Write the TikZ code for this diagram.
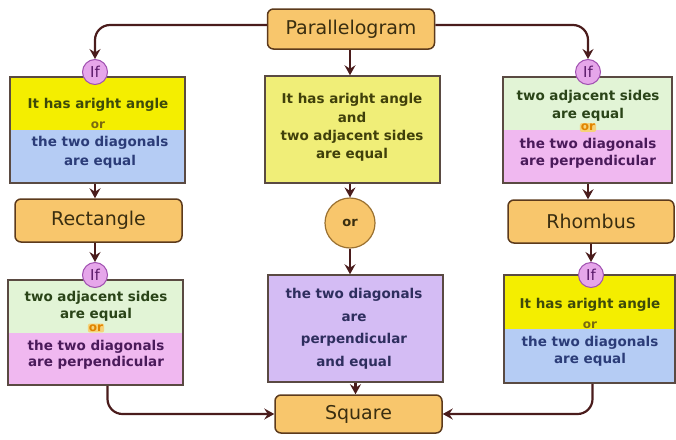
\documentclass[tikz,border=0pt]{standalone}
\usepackage{fontspec}
\setmainfont{DejaVu Sans}
\usetikzlibrary{arrows.meta}
\definecolor{orangefill}{HTML}{F8C66C}
\definecolor{titleborder}{HTML}{5C3A1C}
\definecolor{titletext}{HTML}{3A2E10}
\definecolor{yellowf}{HTML}{F4EE00}
\definecolor{bluef}{HTML}{B5CCF4}
\definecolor{greenf}{HTML}{E2F4D6}
\definecolor{pinkf}{HTML}{F0B8F0}
\definecolor{myellow}{HTML}{F0EE78}
\definecolor{lavf}{HTML}{D4BCF4}
\definecolor{boxborder}{HTML}{5A4A42}
\definecolor{arrcol}{HTML}{4A1C1C}
\definecolor{iffill}{HTML}{E6A6EA}
\definecolor{ifborder}{HTML}{A050B0}
\definecolor{iftext}{HTML}{5A1A6A}
\definecolor{orcborder}{HTML}{9A7030}
\definecolor{olivet}{HTML}{3E4A0A}
\definecolor{navyt}{HTML}{2B3C78}
\definecolor{greent}{HTML}{2A4418}
\definecolor{purplet}{HTML}{4A1A5A}
\definecolor{ort}{HTML}{7A6A10}
\definecolor{oro}{HTML}{E08400}
\definecolor{orhl}{HTML}{F6D27A}
\definecolor{mtext}{HTML}{40400A}
\definecolor{lavt}{HTML}{2E2E5E}
\begin{document}
\begin{tikzpicture}[x=1pt,y=-1pt,
  titlebox/.style={draw=titleborder, line width=1.5pt, fill=orangefill, rounded corners=6pt,
    font=\fontsize{19}{21}\selectfont, text=titletext, inner sep=0pt},
  splitbox/.style 2 args={draw=boxborder, line width=1.5pt, inner sep=0pt,
    path picture={\fill[#1] (path picture bounding box.north west) rectangle (path picture bounding box.east);
      \fill[#2] (path picture bounding box.west) rectangle (path picture bounding box.south east);}},
  plainbox/.style={draw=boxborder, line width=1.5pt, inner sep=0pt},
  btxt/.style={font=\bfseries\fontsize{13.5}{17}\selectfont, align=center, inner sep=0pt},
  ortxt/.style={font=\bfseries\fontsize{12}{12}\selectfont, inner sep=1pt},
  ifc/.style={circle, draw=ifborder, fill=iffill, line width=1pt, minimum size=25pt, inner sep=0pt,
    font=\fontsize{15}{15}\selectfont, text=iftext},
  arr/.style={draw=arrcol, line width=2.2pt, -{Stealth[length=10pt,width=11pt,inset=3.5pt]}, rounded corners=15pt}]
\useasboundingbox (0,0) rectangle (676,439);
% title boxes
\node[titlebox, minimum width=167pt, minimum height=40pt] (par) at (351,29) {Parallelogram};
\node[titlebox, minimum width=167pt, minimum height=43pt] (rect) at (98.5,220.5) {Rectangle};
\node[titlebox, minimum width=166pt, minimum height=43pt] (rhomb) at (591,221.5) {Rhombus};
\node[titlebox, minimum width=167pt, minimum height=38pt] (sq) at (358.5,414) {Square};
% condition boxes
\node[splitbox={yellowf}{bluef}, minimum width=175pt, minimum height=106pt] (L1) at (97.5,130) {};
\node[splitbox={greenf}{pinkf}, minimum width=175pt, minimum height=105pt] (L2) at (95.5,332.5) {};
\node[splitbox={greenf}{pinkf}, minimum width=169pt, minimum height=106pt] (R1) at (587.5,130) {};
\node[splitbox={yellowf}{bluef}, minimum width=171pt, minimum height=108pt] (R2) at (589.5,329) {};
\node[plainbox, fill=myellow, minimum width=175pt, minimum height=107pt] (M1) at (352.5,129.5) {};
\node[plainbox, fill=lavf, minimum width=175pt, minimum height=107pt] (M2) at (355.5,328.5) {};
% texts
\node[btxt, text=olivet] (L1a) at (98,105) {It has aright angle};
\node[ortxt, text=ort] (L1o) at (98,125) {or};
\node[btxt, text=navyt, font=\bfseries\fontsize{13.5}{19}\selectfont] (L1b) at (100,152.5) {the two diagonals\\are equal};
\node[btxt, text=greent, font=\bfseries\fontsize{13.5}{16.5}\selectfont] (L2a) at (96,306.5) {two adjacent sides\\are equal};
\node[ortxt, text=oro, fill=orhl, rounded corners=2pt] (L2o) at (96,328) {or};
\node[btxt, text=purplet, font=\bfseries\fontsize{13.5}{16.5}\selectfont] (L2b) at (96,355) {the two diagonals\\are perpendicular};
\node[btxt, text=greent, font=\bfseries\fontsize{13.5}{17.5}\selectfont] (R1a) at (588,106) {two adjacent sides\\are equal};
\node[ortxt, text=oro, fill=orhl, rounded corners=2pt] (R1o) at (588,127.5) {or};
\node[btxt, text=purplet, font=\bfseries\fontsize{13.5}{17}\selectfont] (R1b) at (588,153.5) {the two diagonals\\are perpendicular};
\node[btxt, text=olivet] (R2a) at (590,305) {It has aright angle};
\node[ortxt, text=ort] (R2o) at (590,325) {or};
\node[btxt, text=navyt, font=\bfseries\fontsize{13.5}{17.5}\selectfont] (R2b) at (590,351.5) {the two diagonals\\are equal};
\node[btxt, text=mtext, font=\bfseries\fontsize{13.5}{18.3}\selectfont] (M1t) at (352,127.5) {It has aright angle\\and\\two adjacent sides\\are equal};
\node[btxt, text=lavt, font=\bfseries\fontsize{13.5}{22.5}\selectfont] (M2t) at (354,329) {the two diagonals\\are\\perpendicular\\and equal};
% circles
\node[ifc] (ifL1) at (95,72) {If};
\node[ifc] (ifL2) at (95,275) {If};
\node[ifc] (ifR1) at (588,72) {If};
\node[ifc] (ifR2) at (591,275) {If};
\node[circle, draw=orcborder, fill=orangefill, line width=1.2pt, minimum size=50pt, inner sep=0pt,
  font=\bfseries\fontsize{13}{13}\selectfont, text=titletext] (orc) at (350,223) {or};
% connectors
\draw[arr] ([yshift=4pt]par.west) -| (ifL1.north);
\draw[arr] ([yshift=4pt]par.east) -| (ifR1.north);
\draw[arr] (par.south -| orc) -- (orc |- M1.north);
\draw[arr] (ifL1 |- L1.south) -- (ifL1 |- rect.north);
\draw[arr] (ifL2 |- rect.south) -- (ifL2.north);
\draw[arr] ([xshift=12pt]L2.south) |- (sq.west);
\draw[arr] (ifR1 |- R1.south) -- (ifR1 |- rhomb.north);
\draw[arr] (ifR2 |- rhomb.south) -- (ifR2.north);
\draw[arr] ([xshift=3pt]R2.south) |- (sq.east);
\draw[arr] (orc |- M1.south) -- (orc.north);
\draw[arr] (orc.south) -- (orc |- M2.north);
\draw[arr] (M2.south) -- (M2.south |- sq.north);
\end{tikzpicture}
\end{document}
